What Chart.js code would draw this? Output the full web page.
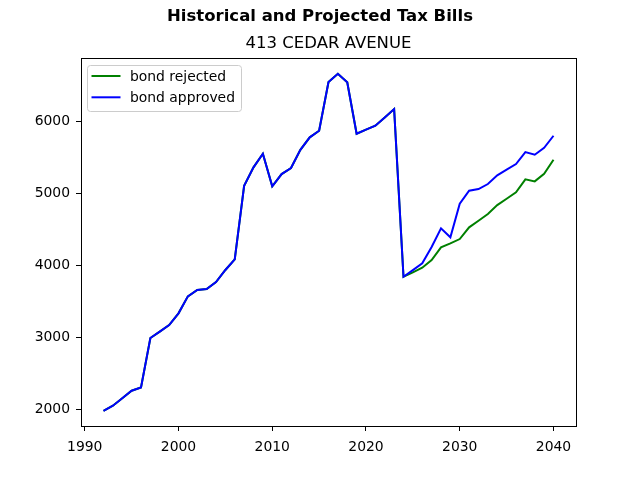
<!DOCTYPE html>
<html>
<head>
<meta charset="utf-8">
<script src="https://cdn.jsdelivr.net/npm/chart.js@4/dist/chart.umd.min.js"></script>
<style>
  html, body { margin: 0; padding: 0; background: #fff; }
  #wrap { width: 640px; height: 480px; }
</style>
</head>
<body>
<div id="wrap"><canvas id="c" width="640" height="480"></canvas></div>
<script>
const years = [1992,1993,1994,1995,1996,1997,1998,1999,2000,2001,2002,2003,2004,2005,2006,2007,2008,2009,2010,2011,2012,2013,2014,2015,2016,2017,2018,2019,2020,2021,2022,2023,2024,2025,2026,2027,2028,2029,2030,2031,2032,2033,2034,2035,2036,2037,2038,2039,2040];

const bondRejected = [1975,2046,2150,2254,2300,2986,3075,3167,3329,3565,3653,3667,3764,3931,4079,5101,5357,5546,5093,5264,5347,5601,5774,5865,6542,6657,6538,5824,5880,5935,6051,6167,3838,3899,3963,4069,4245,4301,4361,4524,4615,4708,4833,4921,5010,5190,5162,5268,5463];

const bondApproved = [1975,2046,2150,2254,2300,2986,3075,3167,3329,3565,3653,3667,3764,3931,4079,5101,5357,5546,5093,5264,5347,5601,5774,5865,6542,6657,6538,5824,5880,5935,6051,6167,3838,3930,4024,4250,4510,4385,4851,5032,5056,5125,5246,5324,5403,5569,5532,5629,5796];

const seriesLabels = ['bond rejected', 'bond approved'];
const xTicks = [1990,2000,2010,2020,2030,2040];
const yTicks = [2000,3000,4000,5000,6000];

const FONT = "'DejaVu Sans', sans-serif";

const framePlugin = {
  id: 'frame',
  afterDatasetsDraw(chart) {
    const a = chart.chartArea;
    const ctx = chart.ctx;
    ctx.save();
    // axes frame
    ctx.strokeStyle = '#000';
    ctx.lineWidth = 1;
    ctx.strokeRect(Math.round(a.left) + 0.5, Math.round(a.top) + 0.5, Math.round(a.right - a.left), Math.round(a.bottom - a.top));
    // legend box (inside the plot area, upper left)
    const bx = a.left + 6.5, by = a.top + 7.5, bw = 154, bh = 46;
    ctx.fillStyle = 'rgba(255,255,255,0.8)';
    ctx.strokeStyle = '#cccccc';
    ctx.beginPath();
    if (ctx.roundRect) ctx.roundRect(bx, by, bw, bh, 3); else ctx.rect(bx, by, bw, bh);
    ctx.fill();
    ctx.stroke();
    ctx.font = '13.9px ' + FONT;
    ctx.textBaseline = 'middle';
    ctx.textAlign = 'left';
    chart.data.datasets.forEach((ds, i) => {
      const cy = a.top + 18 + i * 21.3;
      ctx.strokeStyle = ds.borderColor;
      ctx.lineWidth = 2;
      ctx.beginPath();
      ctx.moveTo(a.left + 10.5, cy);
      ctx.lineTo(a.left + 39.5, cy);
      ctx.stroke();
      ctx.fillStyle = '#000';
      ctx.fillText(ds.label, a.left + 49, cy + 1);
    });
    ctx.restore();
  }
};

new Chart(document.getElementById('c'), {
  type: 'line',
  data: {
    datasets: [
      {
        label: seriesLabels[0],
        data: years.map((y, i) => ({ x: y, y: bondRejected[i] })),
        borderColor: '#008000',
        backgroundColor: '#008000',
        borderWidth: 2,
        pointRadius: 0,
        tension: 0,
        order: 1
      },
      {
        label: seriesLabels[1],
        data: years.map((y, i) => ({ x: y, y: bondApproved[i] })),
        borderColor: '#0000ff',
        backgroundColor: '#0000ff',
        borderWidth: 2,
        pointRadius: 0,
        tension: 0,
        order: 0
      }
    ]
  },
  options: {
    responsive: false,
    animation: false,
    devicePixelRatio: 1,
    layout: { padding: { left: 0, right: 0, top: 0, bottom: 0 } },
    plugins: {
      title: {
        display: true,
        text: 'Historical and Projected Tax Bills',
        color: '#000',
        font: { family: FONT, size: 16.5, weight: 'bold', lineHeight: 1.2 },
        padding: { top: 7, bottom: 0 }
      },
      legend: { display: false },
      tooltip: { enabled: false }
    },
    scales: {
      x: {
        type: 'linear',
        min: 1989.6,
        max: 2042.4,
        afterBuildTicks: s => { s.ticks = xTicks.map(v => ({ value: v })); },
        afterFit: s => { s.height = 54; },
        border: { display: false },
        grid: { display: true, drawOnChartArea: false, drawTicks: true, tickLength: 5, color: '#000', tickColor: '#000' },
        ticks: {
          color: '#000',
          font: { family: FONT, size: 13.9 },
          padding: 8,
          maxRotation: 0,
          autoSkip: false,
          callback: v => String(v)
        }
      },
      x2: {
        type: 'linear',
        position: 'top',
        min: 1989.6,
        max: 2042.4,
        afterFit: s => { s.height = 31.2; },
        border: { display: false },
        grid: { display: false },
        ticks: { display: false },
        title: {
          display: true,
          text: '413 CEDAR AVENUE',
          color: '#000',
          font: { family: FONT, size: 16.5, weight: 'normal', lineHeight: 1.2 },
          padding: { top: 7, bottom: 0 }
        }
      },
      y: {
        type: 'linear',
        min: 1764,
        max: 6876,
        afterBuildTicks: s => { s.ticks = yTicks.map(v => ({ value: v })); },
        afterFit: s => { s.width = 81; },
        border: { display: false },
        grid: { display: true, drawOnChartArea: false, drawTicks: true, tickLength: 5, color: '#000', tickColor: '#000' },
        ticks: {
          color: '#000',
          font: { family: FONT, size: 13.9 },
          padding: 6,
          autoSkip: false,
          callback: v => String(v)
        }
      },
      y2: {
        type: 'linear',
        position: 'right',
        min: 1764,
        max: 6876,
        afterFit: s => { s.width = 64; },
        border: { display: false },
        grid: { display: false },
        ticks: { display: false }
      }
    }
  },
  plugins: [framePlugin]
});
</script>
</body>
</html>
